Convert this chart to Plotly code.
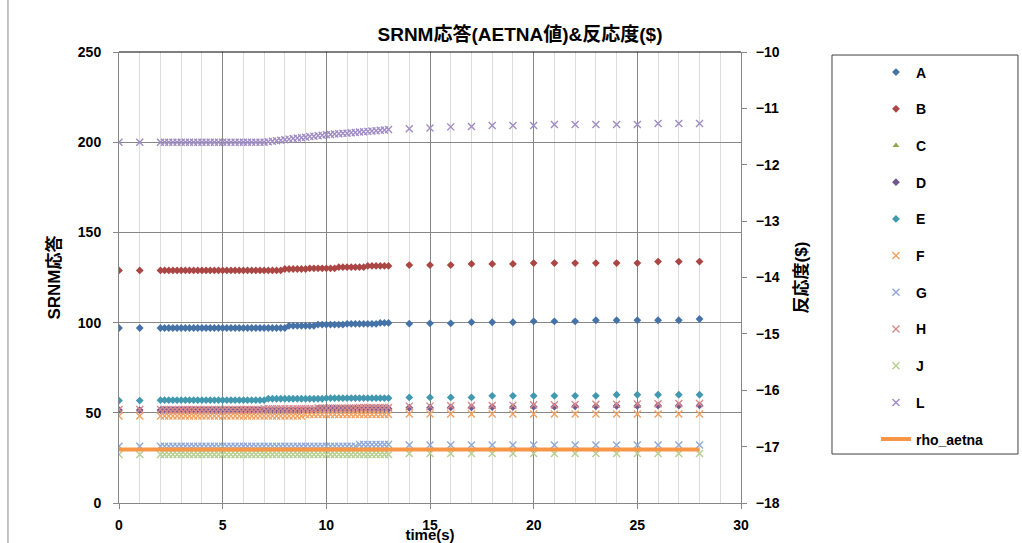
import plotly.graph_objects as go

FONT = "Liberation Sans, Arial, Noto Sans CJK JP, sans-serif"

# time axis (s): two early samples, dense samples 2..13 s, then one per second
TIME = [
    0, 1,
    2.0, 2.2, 2.4, 2.6, 2.8, 3.0, 3.2, 3.4, 3.6, 3.8,
    4.0, 4.2, 4.4, 4.6, 4.8, 5.0, 5.2, 5.4, 5.6, 5.8,
    6.0, 6.2, 6.4, 6.6, 6.8, 7.0, 7.2, 7.4, 7.6, 7.8,
    8.0, 8.2, 8.4, 8.6, 8.8, 9.0, 9.2, 9.4, 9.6, 9.8,
    10.0, 10.2, 10.4, 10.6, 10.8, 11.0, 11.2, 11.4, 11.6, 11.8,
    12.0, 12.2, 12.4, 12.6, 12.8, 13.0,
    14, 15, 16, 17, 18, 19, 20, 21, 22, 23, 24, 25, 26, 27, 28,
]

A = [
    97.0, 97.0,
    97.0, 97.0, 97.0, 97.0, 97.0, 97.0, 97.0, 97.0, 97.0, 97.0,
    97.0, 97.0, 97.0, 97.0, 97.0, 97.0, 97.0, 97.0, 97.0, 97.0,
    97.0, 97.0, 97.0, 97.0, 97.0, 97.0, 97.0, 97.0, 97.0, 97.0,
    97.0, 98.2, 98.2, 98.2, 98.2, 98.2, 98.2, 98.2, 98.9, 98.9,
    98.9, 98.9, 98.9, 98.9, 98.9, 99.3, 99.3, 99.3, 99.3, 99.3,
    99.3, 99.3, 99.3, 99.8, 99.8, 99.8,
    99.4, 99.6, 99.6, 100.2, 100.2, 100.2, 100.7, 100.7, 100.7, 101.3, 101.3, 101.3, 101.3, 101.3, 102.0,
]

B = [
    128.9, 128.9,
    128.9, 128.9, 128.9, 128.9, 128.9, 128.9, 128.9, 128.9, 128.9, 128.9,
    128.9, 128.9, 128.9, 128.9, 128.9, 128.9, 128.9, 128.9, 128.9, 128.9,
    128.9, 128.9, 128.9, 128.9, 128.9, 128.9, 128.9, 128.9, 128.9, 128.9,
    129.7, 129.7, 129.7, 129.7, 129.7, 129.7, 130.1, 130.1, 130.1, 130.1,
    130.1, 130.1, 130.1, 130.7, 130.7, 130.7, 130.7, 130.7, 130.7, 130.7,
    131.4, 131.4, 131.4, 131.4, 131.4, 131.4,
    131.9, 131.9, 131.9, 132.5, 132.5, 132.5, 133.0, 133.0, 133.0, 133.0, 133.0, 133.0, 133.8, 133.8, 133.8,
]

C = [
    51.4, 51.4,
    51.4, 51.4, 51.4, 51.4, 51.4, 51.4, 51.4, 51.4, 51.4, 51.4,
    51.4, 51.4, 51.4, 51.4, 51.4, 51.4, 51.4, 51.4, 51.4, 51.4,
    51.4, 51.4, 51.4, 51.4, 51.4, 51.4, 51.4, 51.4, 51.4, 51.4,
    51.4, 51.4, 51.4, 51.4, 51.4, 51.4, 51.4, 51.4, 52.2, 52.2,
    52.2, 52.2, 52.2, 52.2, 52.2, 52.2, 52.2, 52.2, 52.2, 52.2,
    52.2, 52.2, 52.2, 52.2, 52.2, 52.2,
    52.7, 52.7, 52.9, 52.9, 53.1, 53.1, 53.3, 53.3, 53.5, 53.5, 53.7, 53.7, 53.9, 53.9, 54.0,
]

D = [
    51.5, 51.5,
    51.5, 51.5, 51.5, 51.5, 51.5, 51.5, 51.5, 51.5, 51.5, 51.5,
    51.5, 51.5, 51.5, 51.5, 51.5, 51.5, 51.5, 51.5, 51.5, 51.5,
    51.5, 51.5, 51.5, 51.5, 51.5, 51.5, 51.5, 51.5, 51.5, 51.5,
    51.5, 51.5, 51.5, 51.5, 51.5, 51.5, 51.5, 51.5, 52.3, 52.3,
    52.3, 52.3, 52.3, 52.3, 52.3, 52.3, 52.3, 52.3, 52.3, 52.3,
    52.3, 52.3, 52.3, 52.3, 52.3, 52.3,
    52.8, 52.8, 53.0, 53.0, 53.2, 53.2, 53.4, 53.4, 53.6, 53.6, 53.8, 53.8, 54.0, 54.0, 54.1,
]

E = [
    56.8, 56.8,
    57.0, 57.0, 57.0, 57.0, 57.0, 57.0, 57.0, 57.0, 57.0, 57.0,
    57.0, 57.0, 57.0, 57.0, 57.0, 57.0, 57.0, 57.0, 57.0, 57.0,
    57.0, 57.0, 57.0, 57.0, 57.0, 57.0, 57.8, 57.8, 57.8, 57.8,
    57.8, 57.8, 57.8, 57.8, 57.8, 57.8, 57.8, 57.8, 57.8, 57.8,
    58.1, 58.1, 58.1, 58.1, 58.1, 58.1, 58.1, 58.1, 58.1, 58.1,
    58.1, 58.1, 58.1, 58.1, 58.1, 58.1,
    58.5, 58.5, 58.5, 58.5, 59.4, 59.4, 59.4, 59.4, 59.4, 59.4, 60.0, 60.0, 60.0, 60.0, 60.0,
]

F = [
    48.2, 48.2,
    48.2, 48.2, 48.2, 48.2, 48.2, 48.2, 48.2, 48.2, 48.2, 48.2,
    48.2, 48.2, 48.2, 48.2, 48.2, 48.2, 48.2, 48.2, 48.2, 48.2,
    48.2, 48.2, 48.2, 48.2, 48.2, 48.2, 48.2, 48.2, 48.2, 48.2,
    48.2, 48.2, 48.2, 48.2, 48.2, 49.1, 49.1, 49.1, 49.1, 49.1,
    49.1, 49.1, 49.1, 49.1, 49.1, 49.1, 49.1, 49.1, 49.1, 49.1,
    49.1, 49.1, 49.1, 49.1, 49.1, 49.1,
    49.3, 49.3, 49.3, 49.3, 49.3, 49.3, 49.3, 49.3, 49.3, 49.3, 49.3, 49.3, 49.3, 49.3, 49.3,
]

G = [
    31.5, 31.5,
    31.5, 31.5, 31.5, 31.5, 31.5, 31.5, 31.5, 31.5, 31.5, 31.5,
    31.5, 31.5, 31.5, 31.5, 31.5, 31.5, 31.5, 31.5, 31.5, 31.5,
    31.5, 31.5, 31.5, 31.5, 31.5, 31.5, 31.5, 31.5, 31.5, 31.5,
    31.5, 31.5, 31.5, 31.5, 31.5, 31.5, 31.5, 31.5, 31.5, 31.5,
    31.5, 31.5, 31.5, 31.5, 31.5, 31.5, 31.5, 31.5, 32.4, 32.4,
    32.4, 32.4, 32.4, 32.4, 32.4, 32.4,
    32.1, 32.1, 32.1, 32.1, 32.1, 32.1, 32.1, 32.1, 32.1, 32.1, 32.1, 32.1, 32.1, 32.1, 32.1,
]

H = [
    51.8, 51.8,
    51.8, 51.8, 51.8, 51.8, 51.8, 51.8, 51.8, 51.8, 51.8, 51.8,
    51.8, 51.8, 51.8, 51.8, 51.8, 51.8, 51.8, 51.8, 51.8, 51.8,
    51.8, 51.8, 51.8, 51.8, 51.8, 52.2, 52.2, 52.2, 52.2, 52.2,
    52.2, 52.2, 52.2, 52.2, 52.2, 52.2, 52.2, 52.2, 52.6, 52.6,
    52.6, 52.6, 52.6, 52.6, 52.6, 52.6, 52.6, 52.6, 53.0, 53.0,
    53.0, 53.0, 53.0, 53.0, 53.0, 53.0,
    53.7, 53.7, 53.9, 54.0, 54.1, 54.2, 54.4, 54.5, 54.6, 54.7, 54.8, 54.9, 55.0, 55.1, 55.2,
]

J = [
    26.9, 26.9,
    26.9, 26.9, 26.9, 26.9, 26.9, 26.9, 26.9, 26.9, 26.9, 26.9,
    26.9, 26.9, 26.9, 26.9, 26.9, 26.9, 26.9, 26.9, 26.9, 26.9,
    26.9, 26.9, 26.9, 26.9, 26.9, 26.9, 26.9, 26.9, 26.9, 26.9,
    26.9, 26.9, 26.9, 26.9, 26.9, 26.9, 26.9, 26.9, 26.9, 26.9,
    26.9, 26.9, 26.9, 26.9, 26.9, 26.9, 26.9, 26.9, 26.9, 26.9,
    26.9, 26.9, 26.9, 26.9, 26.9, 26.9,
    27.4, 27.4, 27.4, 27.4, 27.4, 27.4, 27.4, 27.4, 27.4, 27.4, 27.4, 27.4, 27.4, 27.4, 27.4,
]

L = [
    200.0, 200.0,
    200.0, 200.0, 200.0, 200.0, 200.0, 200.0, 200.0, 200.0, 200.0, 200.0,
    200.0, 200.0, 200.0, 200.0, 200.0, 200.0, 200.0, 200.0, 200.0, 200.0,
    200.0, 200.0, 200.0, 200.0, 200.0, 200.0, 200.2, 200.5, 200.8, 201.1,
    201.4, 201.7, 202.0, 202.3, 202.5, 202.8, 203.1, 203.3, 203.6, 203.8,
    204.1, 204.3, 204.5, 204.7, 204.9, 205.0, 205.2, 205.4, 205.6, 205.8,
    206.0, 206.2, 206.4, 206.6, 206.8, 207.0,
    207.4, 207.9, 208.5, 208.7, 209.2, 209.2, 209.2, 209.8, 209.8, 209.8, 209.8, 209.8, 210.4, 210.4, 210.4,
]

RHO_T = [0, 28]
RHO = [-17.05, -17.05]

NAMES = ["A", "B", "C", "D", "E", "F", "G", "H", "J", "L"]
VALUES = [A, B, C, D, E, F, G, H, J, L]
COLORS = ["#4572A7", "#AA4643", "#89A54E", "#71588F", "#4198AF",
          "#F0A060", "#8FA9D6", "#D9898A", "#B5CF8F", "#A08CC4"]
SYMBOLS = ["diamond", "diamond", "triangle-up", "diamond", "diamond",
           "x-thin", "x-thin", "x-thin", "x-thin", "x-thin"]

fig = go.Figure()
for name, vals, color, sym in zip(NAMES, VALUES, COLORS, SYMBOLS):
    if sym == "x-thin":
        marker = dict(symbol=sym, size=7, color=color, line=dict(width=1.4, color=color))
    else:
        marker = dict(symbol=sym, size=6, color=color, line=dict(width=0))
    fig.add_trace(go.Scatter(x=TIME, y=vals, mode="markers", name=name,
                             marker=marker, legendgroup=name))

fig.add_trace(go.Scatter(x=RHO_T, y=RHO, mode="lines", name="rho_aetna",
                         line=dict(color="#F79646", width=4), yaxis="y2",
                         legendgroup="rho"))

GRID = "#878787"
fig.update_layout(
    width=1022, height=543,
    margin=dict(l=119, r=281, t=52, b=40),
    paper_bgcolor="white", plot_bgcolor="white",
    font=dict(family=FONT, color="black", size=14),
    title=dict(text="<b>SRNM応答(AETNA値)&amp;反応度($)</b>", xref="paper",
               x=0.6447, xanchor="center", y=0.937, yanchor="middle",
               font=dict(size=19, family=FONT, color="black")),
    xaxis=dict(range=[0, 30], tick0=0, dtick=5, showgrid=True, gridcolor=GRID, gridwidth=1,
               minor=dict(dtick=1, showgrid=True, gridcolor="#DCDCDC", gridwidth=1),
               showline=True, linecolor=GRID, linewidth=1, zeroline=False,
               ticks="outside", ticklen=5, tickcolor=GRID, automargin=False,
               tickfont=dict(size=14, weight="bold"), ticklabelstandoff=4,
               title=dict(text="<b>time(s)</b>", standoff=0, font=dict(size=15))),
    yaxis=dict(range=[0, 250], tick0=0, dtick=50, showgrid=True, gridcolor=GRID, gridwidth=1,
               showline=True, linecolor=GRID, linewidth=1, zeroline=False,
               ticks="outside", ticklen=5, tickcolor=GRID, automargin=False,
               tickfont=dict(size=14, weight="bold"), ticklabelstandoff=9,
               title=dict(text="<b>SRNM応答</b>", standoff=12, font=dict(size=17))),
    yaxis2=dict(range=[-18, -10], tick0=-18, dtick=1, overlaying="y", side="right",
                showgrid=False, zeroline=False, showline=True, linecolor=GRID, linewidth=1,
                ticks="outside", ticklen=5, tickcolor=GRID, automargin=False,
                tickfont=dict(size=14, weight="bold"), ticklabelstandoff=6,
                title=dict(text="<b>反応度($)</b>", standoff=16, font=dict(size=17))),
    legend=dict(x=1.217, y=0.99, xanchor="left", yanchor="top",
                bgcolor="rgba(0,0,0,0)", borderwidth=0,
                font=dict(size=14, weight="bold", color="black"),
                tracegroupgap=15.5),
    showlegend=True,
    shapes=[
        dict(type="line", xref="paper", yref="paper", x0=0, x1=1, y0=1, y1=1,
             line=dict(color="black", width=1)),
        dict(type="rect", xref="paper", yref="paper", x0=1.1463, x1=1.4453,
             y0=0.1086, y1=0.9933, line=dict(color="#404040", width=1)),
        dict(type="line", xref="paper", yref="paper", x0=-0.1785, x1=-0.1785,
             y0=-0.2, y1=1.2, line=dict(color="#8C8C8C", width=1)),
    ],
)

fig.write_html("out.html")
